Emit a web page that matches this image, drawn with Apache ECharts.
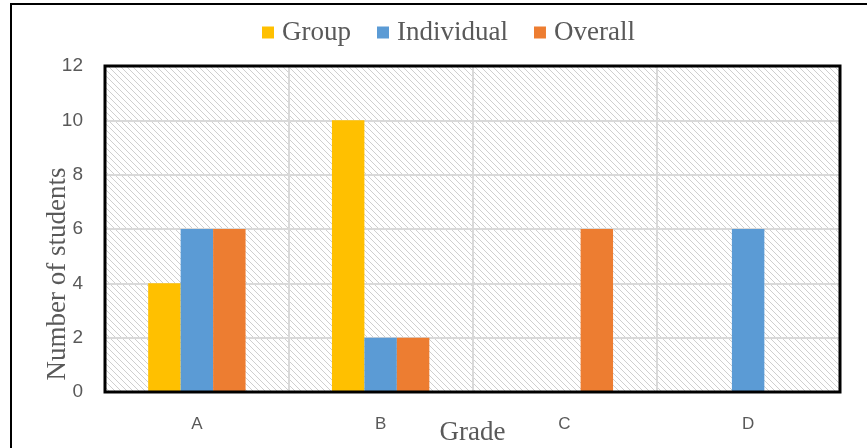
<!DOCTYPE html>
<html>
<head>
<meta charset="utf-8">
<script src="https://cdn.jsdelivr.net/npm/echarts@6/dist/echarts.min.js"></script>
<style>
  html, body { margin: 0; padding: 0; background: #fff; }
  #chart { width: 867px; height: 448px; }
</style>
</head>
<body>
<div id="chart"></div>
<script>
// Grades and student counts per assessment type
const grades = ['A', 'B', 'C', 'D'];
const groupCounts = [4, 10, 0, 0];
const individualCounts = [6, 2, 0, 6];
const overallCounts = [6, 2, 6, 0];
const yTicks = [0, 2, 4, 6, 8, 10, 12];

// Light diagonal hatch used to fill the plotting area
function hatchTile() {
  const size = 6;
  const c = document.createElement('canvas');
  c.width = size; c.height = size;
  const ctx = c.getContext('2d');
  ctx.fillStyle = '#ffffff';
  ctx.fillRect(0, 0, size, size);
  ctx.fillStyle = '#cfcfcf';
  for (let i = 0; i < size; i++) {
    ctx.fillRect(i, i, 1, 1);
  }
  return c;
}

const serif = '"Liberation Serif", "Times New Roman", serif';
const sans = '"Liberation Sans", Arial, sans-serif';
const textGray = '#595959';
const plotBox = { left: 105, right: 27, top: 66, bottom: 56, outerBoundsMode: 'none' };

const chart = echarts.init(document.getElementById('chart'));
chart.setOption({
  animation: false,
  backgroundColor: '#ffffff',
  color: ['#FFC000', '#5B9BD5', '#ED7D31'],
  graphic: [{
    type: 'rect',
    shape: { x: 11, y: 4, width: 900, height: 500 },
    style: { fill: 'none', stroke: '#000', lineWidth: 2 },
    silent: true
  }],
  legend: {
    top: 14,
    left: 257,
    icon: 'rect',
    itemWidth: 12,
    itemHeight: 12,
    itemGap: 26,
    textStyle: { fontFamily: serif, fontSize: 27, color: textGray, padding: [0, 0, 0, 3] },
    data: ['Group', 'Individual', 'Overall']
  },
  grid: [
    // hatched plotting area
    Object.assign({ show: true, borderWidth: 0,
      backgroundColor: { image: hatchTile(), repeat: 'repeat' } }, plotBox),
    // heavy frame drawn above the gridlines and bars
    Object.assign({ show: true, borderColor: '#000', borderWidth: 3,
      backgroundColor: 'transparent', z: 10 }, plotBox)
  ],
  xAxis: {
    type: 'category',
    gridIndex: 0,
    data: grades,
    name: 'Grade',
    nameLocation: 'middle',
    nameGap: 27,
    nameMoveOverlap: false,
    nameTextStyle: { fontFamily: serif, fontSize: 27, color: textGray },
    axisLine: { show: false },
    axisTick: { show: false },
    axisLabel: { fontFamily: sans, fontSize: 17, color: textGray, margin: 24 },
    splitLine: { show: true, lineStyle: { color: '#d9d9d9', width: 2 } }
  },
  yAxis: {
    type: 'value',
    gridIndex: 0,
    min: yTicks[0],
    max: yTicks[yTicks.length - 1],
    interval: 2,
    name: 'Number of students',
    nameLocation: 'middle',
    nameGap: 34,
    nameMoveOverlap: false,
    nameTextStyle: { fontFamily: serif, fontSize: 27, color: textGray, padding: [0, 90, 0, 0] },
    axisLine: { show: false },
    axisTick: { show: false },
    axisLabel: { fontFamily: sans, fontSize: 19, color: textGray, margin: 22 },
    splitLine: { show: true, lineStyle: { color: '#d9d9d9', width: 2 } }
  },
  series: [
    { name: 'Group', type: 'bar', data: groupCounts, barGap: '0%', barCategoryGap: '47%' },
    { name: 'Individual', type: 'bar', data: individualCounts, barGap: '0%', barCategoryGap: '47%' },
    { name: 'Overall', type: 'bar', data: overallCounts, barGap: '0%', barCategoryGap: '47%' }
  ]
});
</script>
</body>
</html>
